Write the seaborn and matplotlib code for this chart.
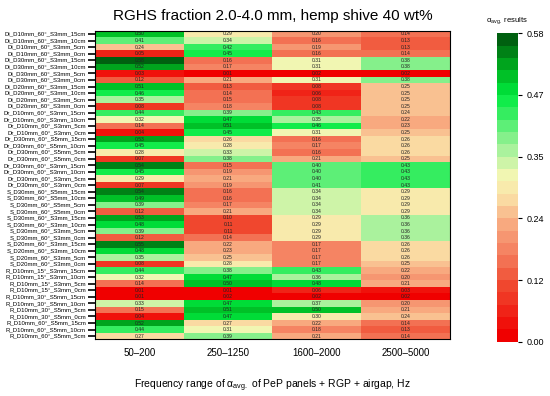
import numpy as np
import pandas as pd
import matplotlib
matplotlib.use("Agg")
import matplotlib.pyplot as plt
from matplotlib.colors import LinearSegmentedColormap, ListedColormap
import seaborn as sns

row_labels = [
    "Di_D10mm_60°_S3mm_15cm", "Di_D10mm_60°_S3mm_10cm", "Di_D10mm_60°_S3mm_5cm", "Di_D10mm_60°_S3mm_0cm",
    "Di_D30mm_60°_S3mm_15cm", "Di_D30mm_60°_S3mm_10cm", "Di_D30mm_60°_S3mm_5cm", "Di_D30mm_60°_S3mm_0cm",
    "Di_D20mm_60°_S3mm_15cm", "Di_D20mm_60°_S3mm_10cm", "Di_D20mm_60°_S3mm_5cm", "Di_D20mm_60°_S3mm_0cm",
    "Dr_D10mm_60°_S3mm_15cm", "Dr_D10mm_60°_S3mm_10cm", "Dr_D10mm_60°_S3mm_5cm", "Dr_D10mm_60°_S3mm_0cm",
    "Dr_D30mm_60°_S5mm_15cm", "Dr_D30mm_60°_S5mm_10cm", "Dr_D30mm_60°_S5mm_5cm", "Dr_D30mm_60°_S5mm_0cm",
    "Dr_D30mm_60°_S3mm_15cm", "Dr_D30mm_60°_S3mm_10cm", "Dr_D30mm_60°_S3mm_5cm", "Dr_D30mm_60°_S3mm_0cm",
    "S_D30mm_60°_S5mm_15cm", "S_D30mm_60°_S5mm_10cm", "S_D30mm_60°_S5mm_5cm", "S_D30mm_60°_S5mm_0cm",
    "S_D30mm_60°_S3mm_15cm", "S_D30mm_60°_S3mm_10cm", "S_D30mm_60°_S3mm_5cm", "S_D30mm_60°_S3mm_0cm",
    "S_D20mm_60°_S3mm_15cm", "S_D20mm_60°_S3mm_10cm", "S_D20mm_60°_S3mm_5cm", "S_D20mm_60°_S3mm_0cm",
    "R_D10mm_15°_S3mm_15cm", "R_D10mm_15°_S3mm_10cm", "R_D10mm_15°_S3mm_5cm", "R_D10mm_15°_S3mm_0cm",
    "R_D10mm_30°_S5mm_15cm", "R_D10mm_30°_S5mm_10cm", "R_D10mm_30°_S5mm_5cm", "R_D10mm_30°_S5mm_0cm",
    "R_D10mm_60°_S5mm_15cm", "R_D10mm_60°_S5mm_10cm", "R_D10mm_60°_S5mm_5cm",
]

freq_ranges = ["50–200", "250–1250", "1600–2000", "2500–5000"]

vals_50_200 = [0.50, 0.41, 0.24, 0.05, 0.58, 0.52, 0.03, 0.12, 0.51, 0.46, 0.35, 0.08,
               0.44, 0.32, 0.14, 0.04, 0.53, 0.45, 0.28, 0.07, 0.54, 0.45, 0.29, 0.07,
               0.54, 0.49, 0.39, 0.12, 0.53, 0.48, 0.39, 0.12, 0.55, 0.48, 0.35, 0.08,
               0.44, 0.32, 0.14, 0.01, 0.01, 0.33, 0.15, 0.04, 0.52, 0.44, 0.27]
vals_250_1250 = [0.29, 0.34, 0.42, 0.45, 0.16, 0.17, 0.01, 0.21, 0.13, 0.14, 0.15, 0.18,
                 0.39, 0.47, 0.51, 0.45, 0.26, 0.28, 0.33, 0.38, 0.15, 0.19, 0.21, 0.19,
                 0.16, 0.16, 0.17, 0.21, 0.10, 0.11, 0.11, 0.14, 0.22, 0.23, 0.25, 0.28,
                 0.38, 0.47, 0.50, 0.01, 0.02, 0.47, 0.51, 0.47, 0.27, 0.31, 0.39]
vals_1600_2000 = [0.20, 0.16, 0.19, 0.16, 0.31, 0.31, 0.02, 0.31, 0.08, 0.06, 0.08, 0.08,
                  0.43, 0.35, 0.46, 0.31, 0.16, 0.17, 0.16, 0.21, 0.40, 0.40, 0.40, 0.41,
                  0.34, 0.34, 0.34, 0.34, 0.29, 0.29, 0.29, 0.29, 0.17, 0.17, 0.17, 0.17,
                  0.43, 0.36, 0.48, 0.06, 0.02, 0.37, 0.50, 0.30, 0.22, 0.18, 0.21]
vals_2500_5000 = [0.14, 0.13, 0.13, 0.14, 0.38, 0.38, 0.02, 0.38, 0.25, 0.25, 0.25, 0.25,
                  0.24, 0.22, 0.23, 0.25, 0.26, 0.26, 0.26, 0.25, 0.43, 0.43, 0.43, 0.43,
                  0.29, 0.29, 0.29, 0.29, 0.36, 0.36, 0.36, 0.36, 0.26, 0.26, 0.26, 0.25,
                  0.22, 0.20, 0.21, 0.03, 0.02, 0.20, 0.21, 0.24, 0.14, 0.13, 0.14]

cbar_tick_labels = ["0.00", "0.12", "0.24", "0.35", "0.47", "0.58"]
vmin, vmax = 0.0, 0.58

df = pd.DataFrame({freq_ranges[0]: vals_50_200, freq_ranges[1]: vals_250_1250,
                   freq_ranges[2]: vals_1600_2000, freq_ranges[3]: vals_2500_5000},
                  index=row_labels)

anchors = [(0.00, "#f00000"), (0.10, "#f04a30"), (0.16, "#f47e5e"), (0.22, "#f8aa80"),
           (0.26, "#fad6a0"), (0.31, "#f6f6b4"), (0.36, "#b0f2a0"), (0.42, "#50ee70"),
           (0.47, "#00ec40"), (0.52, "#00b620"), (0.58, "#006010")]
base = LinearSegmentedColormap.from_list("rg", [(v / vmax, c) for v, c in anchors])
cmap = ListedColormap(base(np.linspace(0, 1, 25)))

plt.rcParams["font.family"] = ["Liberation Sans", "DejaVu Sans"]
fig = plt.figure(figsize=(5.5, 3.96), dpi=100)
ax = fig.add_axes([0.1727, 0.1427, 0.6455, 0.7798])
cax = fig.add_axes([0.9036, 0.137, 0.038, 0.779])

sns.heatmap(df, ax=ax, cbar_ax=cax, cmap=cmap, vmin=vmin, vmax=vmax,
            annot=True, fmt=".2f", annot_kws={"fontsize": 3.6, "color": "#222222"},
            linewidths=0, yticklabels=True)

for s in ax.spines.values():
    s.set_visible(True)
    s.set_color("black")
    s.set_linewidth(0.8)

ax.tick_params(axis="y", length=5, width=1.2, labelsize=4.3, pad=1.5)
ax.tick_params(axis="x", length=0, labelsize=7, pad=6)
ax.set_xticklabels(freq_ranges, rotation=0)
ax.set_ylabel("")
ax.set_xlabel("Frequency range of α$_{\\mathregular{avg.}}$ of PeP panels + RGP + airgap, Hz",
              fontsize=7.5, labelpad=14)
ax.set_title("RGHS fraction 2.0-4.0 mm, hemp shive 40 wt%", fontsize=11, pad=8)

cax.set_yticks(np.linspace(vmin, vmax, len(cbar_tick_labels)))
cax.set_yticklabels(cbar_tick_labels)
cax.tick_params(labelsize=6.5, length=3, width=0.8)
cax.set_title("α$_{\\mathregular{avg.}}$ results", fontsize=5.5, pad=8)

fig.savefig("out.png", dpi=100)
